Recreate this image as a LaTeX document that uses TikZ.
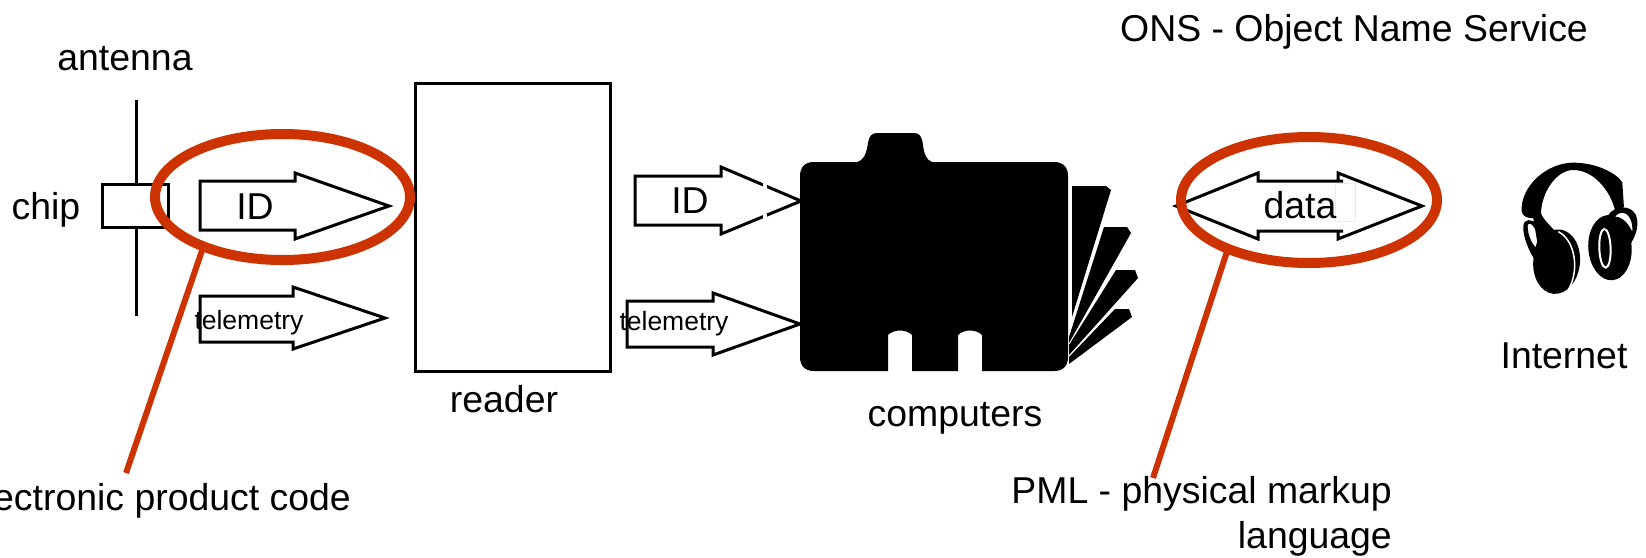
\documentclass[tikz,border=0pt]{standalone}
\usepackage{fontspec}
\setmainfont{Liberation Sans}
\usetikzlibrary{shapes.geometric}
\definecolor{rustred}{HTML}{CC3300}
\tikzset{
  blk/.style={draw=black,line width=3pt,miter limit=20},
  lbl/.style={inner sep=0pt,font=\fontsize{37.4}{37.4}\selectfont},
  small/.style={inner sep=0pt,font=\fontsize{26.5}{26.5}\selectfont},
  ring/.style={ellipse,draw=rustred,line width=10pt,inner sep=0pt,outer sep=0pt},
  lead/.style={draw=rustred,line width=6pt},
  shp/.style={fill=black,draw=none}
}
\begin{document}
\begin{tikzpicture}[x=1pt,y=-1pt]
\useasboundingbox (0,0) rectangle (1646,557);
% antenna + chip
\coordinate (antTop) at (136.5,100);
\coordinate (antBot) at (136.5,316);
\draw[line width=3pt] (antTop) -- (antBot);
\node[blk,fill=white,minimum width=66pt,minimum height=43pt,inner sep=0pt] (chipbox) at (135,206) {};
\node[lbl] (antenna) at (125,59) {antenna};
\node[lbl] (chip) at (46,210) {chip};
% reader
\node[draw=black,line width=3pt,minimum width=195pt,minimum height=288pt,inner sep=0pt] (reader) at (512.5,227) {};
\node[lbl] (readerlbl) at (504,399) {reader};
% arrows
\draw[blk] (200,181)--(295,181)--(295,173)--(389,206)--(295,239)--(295,230)--(200,230)--cycle;
\node[lbl] (id1) at (255,207) {ID};
\draw[blk] (200,296)--(293,296)--(293,287)--(385,318)--(293,349)--(293,342)--(200,342)--cycle;
\node[small] (tel1) at (249,323) {telemetry};
\draw[blk] (635,176)--(721,176)--(721,167)--(801,201)--(721,234)--(721,225)--(635,225)--cycle;
\fill[white] (763,178) rectangle (767,188);
\fill[white] (763,214) rectangle (767,224);
\node[lbl] (id2) at (690,201) {ID};
\draw[blk] (627,301)--(713,301)--(713,293)--(800,324)--(713,355)--(713,347)--(627,347)--cycle;
\node[small] (tel2) at (674,324) {telemetry};
% folder
\path[shp] (814,162) -- (857,162) .. controls (865,160) and (867,150) .. (868,143)
  .. controls (869,136) and (872,133) .. (877,133) -- (914,133)
  .. controls (920,133) and (922,137) .. (923,145) .. controls (924,153) and (926,160) .. (932,162)
  -- (1054,162) .. controls (1063,162) and (1068,167) .. (1068,176) -- (1068,357)
  .. controls (1068,366) and (1063,371) .. (1054,371) -- (982,371) -- (982,335)
  .. controls (976,329) and (964,329) .. (958,335) -- (958,371) -- (912,371) -- (912,335)
  .. controls (906,329) and (894,329) .. (888,335) -- (888,371) -- (814,371)
  .. controls (805,371) and (800,366) .. (800,357) -- (800,176)
  .. controls (800,167) and (805,162) .. (814,162) -- cycle;
\path[shp] (1072,186)--(1106,186)--(1111,190)--(1072,317)--cycle;
\path[shp] (1104,227)--(1127,227)--(1131,233)--(1069,343)--(1069,337)--cycle;
\path[shp] (1116,270)--(1135,270)--(1138,278)--(1069,355)--(1069,345)--cycle;
\path[shp] (1115,309)--(1129,309)--(1132,317)--(1069,364)--(1069,357)--cycle;
\node[lbl] (computers) at (955,418) {computers};
% data arrow
\draw[blk] (1176,206)--(1258,173)--(1258,181)--(1343,181)--(1338,181)--(1338,173)--(1422,206)--(1338,239)--(1338,231)--(1343,231)--(1258,231)--(1258,239)--cycle;
\node[draw=black!8,line width=1.5pt,fill=white,minimum width=20pt,minimum height=38pt,inner sep=0pt] (mask) at (1345.5,202.5) {};
\node[lbl] (data) at (1300,205) {data};
% rings
\node[ring,minimum width=255pt,minimum height=126pt] (ring1) at (282.5,197) {};
\node[ring,minimum width=256pt,minimum height=126pt] (ring2) at (1309,200) {};
\coordinate (lead1end) at (126,473);
\coordinate (lead2end) at (1153,478);
\draw[lead] (ring1.212) -- (lead1end);
\draw[lead] (ring2.211) -- (lead2end);
% text
\node[lbl,anchor=east] (epc) at (351,501) {electronic product code};
\node[lbl,anchor=east] (pml1) at (1392,494) {PML - physical markup};
\node[lbl,anchor=east] (pml2) at (1392,539) {language};
\node[lbl,anchor=east] (ons) at (1588,32) {ONS - Object Name Service};
\node[lbl] (internet) at (1564,356) {Internet};
% headphones
\begin{scope}[shift={(1150,120)},x=0.3333pt,y=-0.3333pt]
\path[shp] (1115,275) .. controls (1110,200) and (1190,128) .. (1270,128)
  .. controls (1340,128) and (1400,160) .. (1417,187) -- (1422,262) -- (1395,270)
  .. controls (1380,210) and (1330,150) .. (1270,150)
  .. controls (1220,150) and (1175,215) .. (1173,280)
  .. controls (1180,300) and (1205,320) .. (1225,345) -- (1165,385) -- (1150,295) .. controls (1135,295) and (1118,290) .. (1115,275) -- cycle;
\path[shp,even odd rule] (1120,320) .. controls (1120,295) and (1145,295) .. (1165,315)
  .. controls (1180,335) and (1185,350) .. (1180,370) -- (1155,420) .. controls (1140,400) and (1118,350) .. (1120,320) -- cycle
  (1133,320) .. controls (1135,355) and (1150,375) .. (1157,382) .. controls (1162,360) and (1168,355) .. (1160,335) .. controls (1150,315) and (1135,300) .. (1133,320) -- cycle;
\path[shp,rotate around={-6:(1220,425)}] (1220,425) ellipse [x radius=70,y radius=97];
\draw[white,line width=1.5pt] (1225,335) .. controls (1275,360) and (1290,450) .. (1255,510);
\path[shp,even odd rule] (1375,285) .. controls (1390,260) and (1440,250) .. (1458,285)
  .. controls (1470,320) and (1455,350) .. (1440,375) -- (1410,440) -- (1370,320) -- cycle
  (1395,290) .. controls (1415,265) and (1450,280) .. (1447,335) .. controls (1430,300) and (1410,290) .. (1395,290) -- cycle;
\path[shp,rotate around={4:(1380,383)}] (1380,383) ellipse [x radius=65,y radius=98];
\draw[white,line width=2pt,rotate around={2:(1365,385)}] (1365,385) ellipse [x radius=17,y radius=58];
\end{scope}
\end{tikzpicture}
\end{document}
